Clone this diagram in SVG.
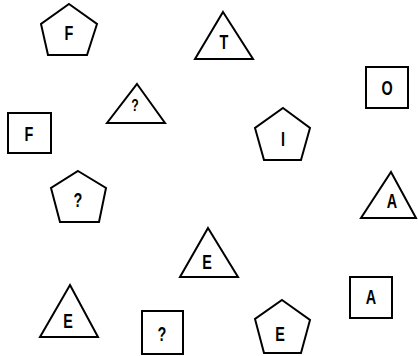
<svg xmlns="http://www.w3.org/2000/svg" width="418" height="356" viewBox="0 0 418 356">
<style>
.s{fill:#fff;stroke:#000;stroke-width:2;stroke-linejoin:miter}
.t{font-family:"Liberation Sans",Arial,sans-serif;font-size:20px;font-weight:bold;text-anchor:middle;dominant-baseline:central;fill:#000}
</style>
<rect width="418" height="356" fill="#fff"/>
<g id="pent-F"><polygon class="s" points="69,4 97,24 87,55 48,55 41,24"/><text class="t" transform="translate(69,33) scale(0.72,1)">F</text></g>
<g id="tri-T"><polygon class="s" points="223,12 253,59 195,59"/><text class="t" transform="translate(224,42) scale(0.72,1)">T</text></g>
<g id="sq-O"><rect class="s" x="366" y="67" width="42" height="41"/><text class="t" transform="translate(387,88) scale(0.72,1)">O</text></g>
<g id="tri-Q"><polygon class="s" points="137,84 165,123 107,123"/><text class="t" transform="translate(135,105) scale(0.72,1)" style="font-size:17px">?</text></g>
<g id="sq-F"><rect class="s" x="8" y="113" width="43" height="40"/><text class="t" transform="translate(29,134) scale(0.72,1)">F</text></g>
<g id="pent-I"><polygon class="s" points="283,108 310,128 301,160 264,160 255,128"/><text class="t" transform="translate(283,139) scale(0.72,1)">I</text></g>
<g id="pent-Q"><polygon class="s" points="78,171 106,188 99,222 60,222 51,188"/><text class="t" transform="translate(78,200) scale(0.72,1)">?</text></g>
<g id="tri-A"><polygon class="s" points="391,172 416,218 361,218"/><text class="t" transform="translate(392,201) scale(0.72,1)">A</text></g>
<g id="tri-E1"><polygon class="s" points="208,228 238,277 180,277"/><text class="t" transform="translate(207,262) scale(0.72,1)">E</text></g>
<g id="sq-A"><rect class="s" x="350" y="277" width="42" height="41"/><text class="t" transform="translate(371,297) scale(0.72,1)">A</text></g>
<g id="tri-E2"><polygon class="s" points="70,285 98,337 40,337"/><text class="t" transform="translate(68,321) scale(0.72,1)">E</text></g>
<g id="sq-Q"><rect class="s" x="142" y="311" width="41" height="43"/><text class="t" transform="translate(162,334) scale(0.72,1)">?</text></g>
<g id="pent-E"><polygon class="s" points="282,300 310,320 301,353 264,353 255,319"/><text class="t" transform="translate(280,334) scale(0.72,1)">E</text></g>
<g id="connectors"></g>
</svg>
